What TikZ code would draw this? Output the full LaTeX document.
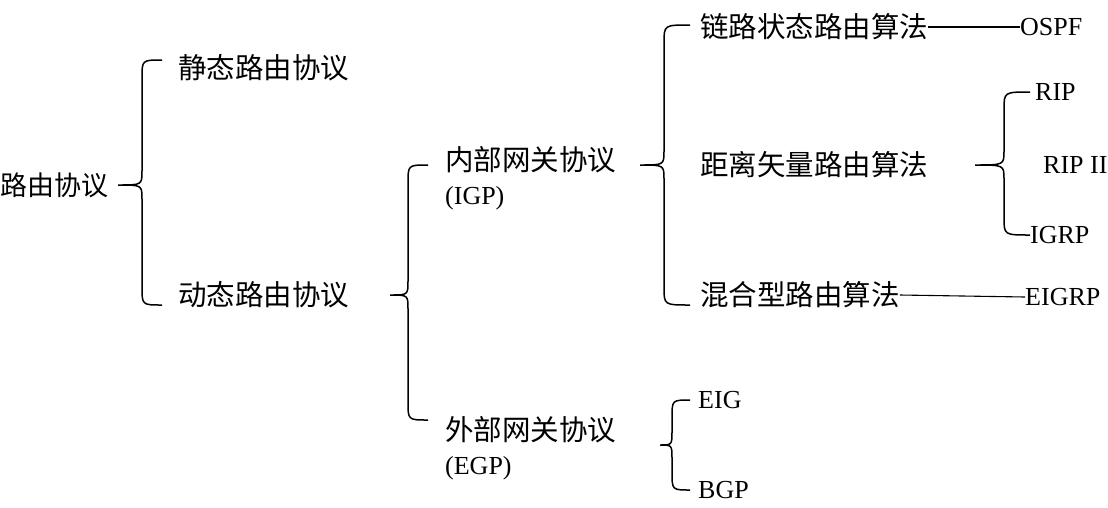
\documentclass[tikz,border=0pt]{standalone}
\usepackage{fontspec}
\setmainfont{Liberation Serif}
\newfontfamily\cjk{Noto Sans CJK SC}
\newcommand\mybrace[6]{% xtip xmid xend top tip bot
 \draw[brc] (#3,#4) .. controls (#2,#4) .. (#2,#4+18) -- (#2,#5-14) .. controls (#2,#5) .. (#1,#5) .. controls (#2,#5) .. (#2,#5+14) -- (#2,#6-18) .. controls (#2,#6) .. (#3,#6);}
\begin{document}
\begin{tikzpicture}[x=1pt,y=-1pt,
  zh/.style={anchor=west,inner sep=0pt,font=\cjk\fontsize{28.5}{30}\selectfont},
  en/.style={anchor=west,inner sep=0pt,font=\fontsize{26}{28}\selectfont},
  brc/.style={line width=1.5pt},
  ln/.style={line width=1.1pt}]
\useasboundingbox[fill=white] (0,0) rectangle (1108,507);
\node[zh,font=\cjk\fontsize{27}{29}\selectfont] (root) at (0,185) {路由协议};
\mybrace{118}{142}{162}{60}{185}{305}
\node[zh] (st) at (178,68) {静态路由协议};
\node[zh] (dy) at (178,295) {动态路由协议};
\mybrace{390}{408}{428}{165}{295}{420}
\node[zh] (igp) at (445,160) {内部网关协议};
\node[en] (igp2) at (445,198) {(IGP)};
\node[zh] (egp) at (445,430) {外部网关协议};
\node[en] (egp2) at (445,468) {(EGP)};
\mybrace{640}{664}{690}{25}{165}{305}
\node[zh] (ls) at (700,27) {链路状态路由算法};
\node[en] (ospf) at (1020,27) {OSPF};
\draw[ln] (ls.east) -- (ospf.west);
\node[zh] (dv) at (700,165) {距离矢量路由算法};
\mybrace{975}{1004}{1030}{92}{165}{235}
\node[en] (rip) at (1035,92) {RIP};
\node[en] (rip2) at (1043,165) {RIP II};
\node[en] (igrp) at (1030,235) {IGRP};
\node[zh] (hy) at (700,295) {混合型路由算法};
\node[en] (eigrp) at (1025,297) {EIGRP};
\draw[ln] (hy.east) -- (eigrp.west);
\mybrace{660}{672}{690}{400}{445}{490}
\node[en] (eig) at (698,400) {EIG};
\node[en] (bgp) at (698,490) {BGP};
\end{tikzpicture}
\end{document}
